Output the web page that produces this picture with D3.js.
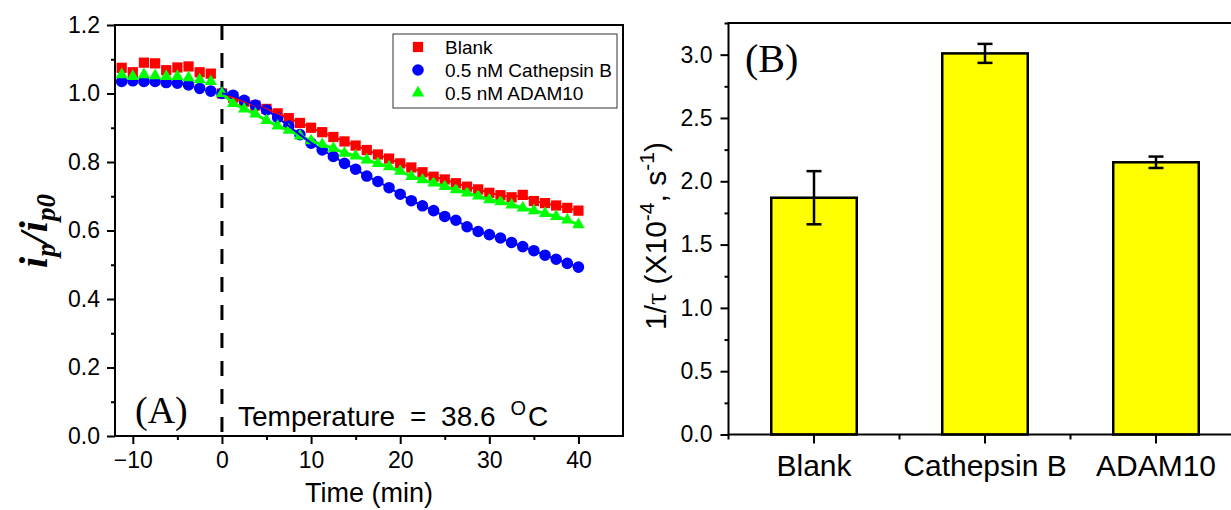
<!DOCTYPE html>
<html>
<head>
<meta charset="utf-8">
<script src="https://cdn.jsdelivr.net/npm/d3@7"></script>
<style>
  body { margin: 0; background: #fff; }
  svg { display: block; font-family: "Liberation Sans", Arial, sans-serif; }
</style>
</head>
<body>
<svg id="chart" width="1231" height="510"></svg>
<script>
// panel A data: normalised peak current vs time
const times = [-11.25, -10, -8.75, -7.5, -6.25, -5, -3.75, -2.5, -1.25, 0,
  1.25, 2.5, 3.75, 5, 6.25, 7.5, 8.75, 10, 11.25, 12.5, 13.75, 15, 16.25, 17.5, 18.75,
  20, 21.25, 22.5, 23.75, 25, 26.25, 27.5, 28.75, 30, 31.25, 32.5, 33.75, 35, 36.25, 37.5, 38.75, 40];

const blank = [1.075, 1.062, 1.09, 1.088, 1.068, 1.076, 1.079, 1.062, 1.058, 1.0,
  0.988, 0.976, 0.965, 0.955, 0.942, 0.928, 0.914, 0.9, 0.887, 0.873, 0.86, 0.848, 0.835, 0.822, 0.81,
  0.796, 0.784, 0.77, 0.757, 0.749, 0.738, 0.728, 0.72, 0.71, 0.703, 0.697, 0.704, 0.686, 0.68, 0.673, 0.666, 0.658];

const cathepsin = [1.035, 1.037, 1.035, 1.035, 1.032, 1.03, 1.025, 1.015, 1.007, 1.0,
  0.995, 0.98, 0.966, 0.952, 0.93, 0.905, 0.88, 0.855, 0.835, 0.816, 0.796, 0.779, 0.759, 0.743, 0.725,
  0.706, 0.687, 0.672, 0.658, 0.641, 0.63, 0.611, 0.597, 0.588, 0.578, 0.565, 0.553, 0.541, 0.528, 0.516, 0.504, 0.493];

const adam10 = [1.055, 1.05, 1.055, 1.052, 1.05, 1.05, 1.046, 1.04, 1.035, 1.0,
  0.971, 0.955, 0.94, 0.921, 0.905, 0.893, 0.876, 0.862, 0.851, 0.84, 0.826, 0.818, 0.806, 0.796, 0.786,
  0.773, 0.758, 0.748, 0.739, 0.729, 0.719, 0.71, 0.701, 0.69, 0.684, 0.675, 0.666, 0.658, 0.65, 0.641, 0.631, 0.617];

const seriesNames = ["Blank", "0.5 nM Cathepsin B", "0.5 nM ADAM10"];
const seriesColors = ["#ff0000", "#0000ff", "#00ff00"];

const timeTicks = [-10, 0, 10, 20, 30, 40];
const timeMinor = [-5, 5, 15, 25, 35];
const ratioTicks = [0, 0.2, 0.4, 0.6, 0.8, 1.0, 1.2];
const ratioMinor = [0.1, 0.3, 0.5, 0.7, 0.9, 1.1];

// panel B data: 1/tau
const barLabels = ["Blank", "Cathepsin B", "ADAM10"];
const barValues = [1.87, 3.01, 2.15];
const barErrors = [0.21, 0.075, 0.045];
const rateTicks = [0, 0.5, 1.0, 1.5, 2.0, 2.5, 3.0];
const rateMinor = [0.25, 0.75, 1.25, 1.75, 2.25, 2.75, 3.25];

const svg = d3.select("#chart");

// ---------- panel A ----------
const x = d3.scaleLinear().domain([-12, 45]).range([115, 623]);
const y = d3.scaleLinear().domain([0, 1.2]).range([436, 25]);

const gA = svg.append("g");

function styleAxis(g, size) {
  g.select(".domain").remove();
  g.selectAll("line").attr("stroke", "#000").attr("stroke-width", 2);
  g.selectAll("text").attr("fill", "#000").style("font-size", size + "px");
}

gA.append("g")
  .attr("transform", "translate(0,436)")
  .call(d3.axisBottom(x).tickValues(timeTicks).tickSize(8).tickPadding(8).tickSizeOuter(0))
  .call((g) => styleAxis(g, 23));
gA.append("g")
  .attr("transform", "translate(0,436)")
  .call(d3.axisBottom(x).tickValues(timeMinor).tickSize(4).tickFormat("").tickSizeOuter(0))
  .call((g) => styleAxis(g, 23));
gA.append("g")
  .attr("transform", "translate(115,0)")
  .call(d3.axisLeft(y).tickValues(ratioTicks).tickSize(8).tickPadding(7).tickFormat(d3.format(".1f")).tickSizeOuter(0))
  .call((g) => styleAxis(g, 23));
gA.append("g")
  .attr("transform", "translate(115,0)")
  .call(d3.axisLeft(y).tickValues(ratioMinor).tickSize(4).tickFormat("").tickSizeOuter(0))
  .call((g) => styleAxis(g, 23));

// dashed line at t = 0
gA.append("line")
  .attr("x1", x(0)).attr("x2", x(0))
  .attr("y1", y(1.2)).attr("y2", y(0))
  .attr("stroke", "#000")
  .attr("stroke-width", 3)
  .attr("stroke-dasharray", "15,13");

const allSeries = [blank, cathepsin, adam10].map((vals, i) => ({
  name: seriesNames[i],
  color: seriesColors[i],
  symbol: [d3.symbolSquare, d3.symbolCircle, d3.symbolTriangle][i],
  size: [105, 105, 66][i],
  points: vals.map((v, k) => ({ t: times[k], v: v })),
}));

allSeries.forEach((s) => {
  gA.append("g")
    .selectAll("path")
    .data(s.points)
    .join("path")
    .attr("transform", (d) => `translate(${x(d.t)},${y(d.v)})`)
    .attr("d", d3.symbol(s.symbol, s.size))
    .attr("fill", s.color);
});

// fit-like lines after t = 0
const fitLine = d3.line().x((d) => x(d.t)).y((d) => y(d.v)).curve(d3.curveBasis);
[0, 2, 1].forEach((i) => {
  const s = allSeries[i];
  gA.append("path")
    .datum(s.points.filter((d) => d.t >= 0))
    .attr("d", fitLine)
    .attr("fill", "none")
    .attr("stroke", s.color)
    .attr("stroke-width", i === 2 ? 3 : 2);
});

gA.append("rect")
  .attr("x", 115).attr("y", 25)
  .attr("width", 508).attr("height", 411)
  .attr("fill", "none").attr("stroke", "#000").attr("stroke-width", 2);

// legend
const leg = gA.append("g");
leg.append("rect")
  .attr("x", 393).attr("y", 34).attr("width", 224).attr("height", 74)
  .attr("fill", "#fff").attr("stroke", "#333").attr("stroke-width", 1);
allSeries.forEach((s, i) => {
  const ly = 47 + i * 23;
  leg.append("path")
    .attr("transform", `translate(418,${ly})`)
    .attr("d", d3.symbol(s.symbol, s.size))
    .attr("fill", s.color);
  leg.append("text")
    .attr("x", 445).attr("y", ly + 7)
    .style("font-size", "19px")
    .text(s.name);
});

gA.append("text")
  .attr("x", 135).attr("y", 423)
  .style("font-family", "'Liberation Serif', 'Times New Roman', serif")
  .style("font-size", "38px")
  .text("(A)");

const temp = gA.append("text")
  .attr("x", 238).attr("y", 426)
  .style("font-size", "28px")
  .style("word-spacing", "7px");
temp.append("tspan").text("Temperature = 38.6 ");
temp.append("tspan").attr("dy", -11).style("font-size", "20px").text("O");
temp.append("tspan").attr("dx", 2).attr("dy", 11).text("C");

gA.append("text")
  .attr("x", 369).attr("y", 502)
  .attr("text-anchor", "middle")
  .style("font-size", "27px")
  .text("Time (min)");

const yLabA = gA.append("text")
  .attr("transform", "translate(47,231) rotate(-90)")
  .attr("text-anchor", "middle")
  .style("font-family", "'Liberation Serif', 'Times New Roman', serif")
  .style("font-weight", "bold")
  .style("font-style", "italic")
  .style("font-size", "40px");
yLabA.append("tspan").text("i");
yLabA.append("tspan").attr("dy", 8).style("font-size", "27px").text("p");
yLabA.append("tspan").attr("dy", -8).text("/i");
yLabA.append("tspan").attr("dy", 8).style("font-size", "27px").text("p0");

// ---------- panel B ----------
const xb = d3.scaleBand().domain(barLabels).range([728.5, 1241.5]).paddingInner(0.5).paddingOuter(0.25);
const yb = d3.scaleLinear().domain([0, 3.25]).range([434.5, 23]);

const gB = svg.append("g");

gB.append("g")
  .attr("transform", "translate(0,434.5)")
  .call(d3.axisBottom(xb).tickSize(9).tickPadding(11).tickSizeOuter(0))
  .call((g) => styleAxis(g, 30));
gB.append("g")
  .attr("transform", "translate(0,434.5)")
  .selectAll("line")
  .data(barLabels)
  .join("line")
  .attr("x1", (d) => xb(d) + xb.bandwidth() / 2 - xb.step() / 2)
  .attr("x2", (d) => xb(d) + xb.bandwidth() / 2 - xb.step() / 2)
  .attr("y1", 0).attr("y2", 5)
  .attr("stroke", "#000").attr("stroke-width", 2);
gB.append("g")
  .attr("transform", "translate(728.5,0)")
  .call(d3.axisLeft(yb).tickValues(rateTicks).tickSize(8).tickPadding(8).tickFormat(d3.format(".1f")).tickSizeOuter(0))
  .call((g) => styleAxis(g, 23));
gB.append("g")
  .attr("transform", "translate(728.5,0)")
  .call(d3.axisLeft(yb).tickValues(rateMinor).tickSize(4).tickFormat("").tickSizeOuter(0))
  .call((g) => styleAxis(g, 23));

gB.append("g")
  .selectAll("rect")
  .data(barValues)
  .join("rect")
  .attr("x", (d, i) => xb(barLabels[i]))
  .attr("y", (d) => yb(d))
  .attr("width", xb.bandwidth())
  .attr("height", (d) => yb(0) - yb(d))
  .attr("fill", "#ffff00")
  .attr("stroke", "#000")
  .attr("stroke-width", 2.5);

const err = gB.append("g")
  .selectAll("g")
  .data(barValues)
  .join("g")
  .attr("stroke", "#000")
  .attr("stroke-width", 2.5);
err.append("line")
  .attr("x1", (d, i) => xb(barLabels[i]) + xb.bandwidth() / 2)
  .attr("x2", (d, i) => xb(barLabels[i]) + xb.bandwidth() / 2)
  .attr("y1", (d, i) => yb(d - barErrors[i]))
  .attr("y2", (d, i) => yb(d + barErrors[i]));
[-1, 1].forEach((sgn) => {
  err.append("line")
    .attr("x1", (d, i) => xb(barLabels[i]) + xb.bandwidth() / 2 - 7.5)
    .attr("x2", (d, i) => xb(barLabels[i]) + xb.bandwidth() / 2 + 7.5)
    .attr("y1", (d, i) => yb(d + sgn * barErrors[i]))
    .attr("y2", (d, i) => yb(d + sgn * barErrors[i]));
});

gB.append("rect")
  .attr("x", 728.5).attr("y", 23)
  .attr("width", 513).attr("height", 411.5)
  .attr("fill", "none").attr("stroke", "#000").attr("stroke-width", 2);

gB.append("text")
  .attr("x", 745).attr("y", 72)
  .style("font-family", "'Liberation Serif', 'Times New Roman', serif")
  .style("font-size", "40px")
  .text("(B)");

const yLabB = gB.append("text")
  .attr("transform", "translate(666,236) rotate(-90)")
  .attr("text-anchor", "middle")
  .style("font-size", "30px");
yLabB.append("tspan").text("1/");
yLabB.append("tspan").style("font-family", "'Liberation Serif', serif").text("τ");
yLabB.append("tspan").text(" (X10");
yLabB.append("tspan").attr("dy", -12).style("font-size", "21px").text("-4");
yLabB.append("tspan").attr("dy", 12).text(", s");
yLabB.append("tspan").attr("dy", -12).style("font-size", "21px").text("-1");
yLabB.append("tspan").attr("dy", 12).text(")");
</script>
</body>
</html>
